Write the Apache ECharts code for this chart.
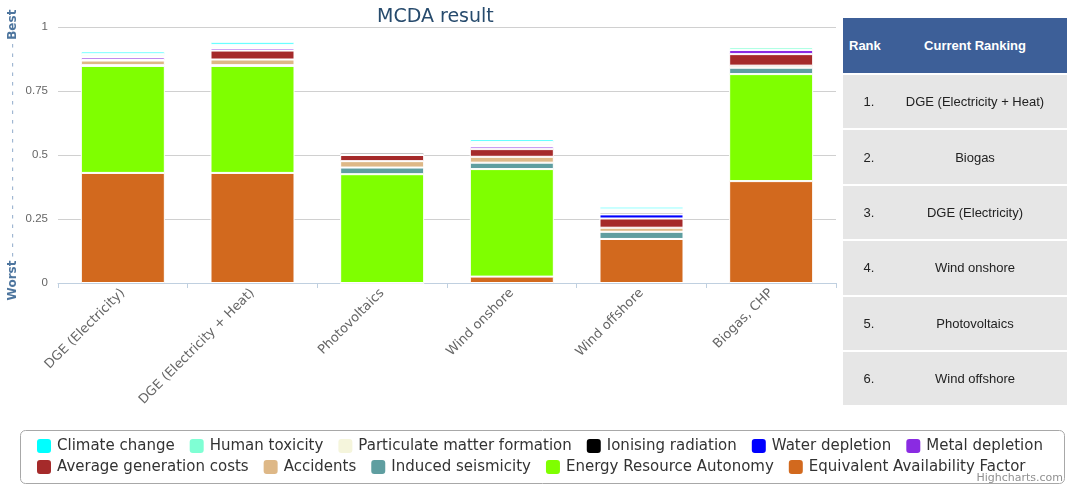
<!DOCTYPE html>
<html>
<head>
<meta charset="utf-8">
<script src="https://cdn.jsdelivr.net/npm/echarts@6/dist/echarts.min.js"></script>
<style>
  body { margin: 0; background: #fff; }
  #chart { position: absolute; left: 0; top: 0; width: 1067px; height: 484px; }
  #rank { position: absolute; left: 843px; top: 18px; width: 224px; font-family: 'Liberation Sans', Arial, sans-serif; font-size: 13px; }
  .hdr { height: 55px; background: #3d5f98; color: #fff; font-weight: bold; position: relative; }
  .row { height: 53.4px; margin-top: 2px; background: #e6e6e6; color: #222; position: relative; }
  .c1, .c2 { position: absolute; top: 0; height: 100%; display: flex; align-items: center; justify-content: center; }
  .c1 { left: 0; width: 52px; }
  .c2 { left: 40px; width: 184px; }
  .hdr .c1 { justify-content: flex-start; padding-left: 6px; }
</style>
</head>
<body>
<div id="chart"></div>
<div id="rank"></div>
<script>
// ---- data ----
const categories = ['DGE (Electricity)', 'DGE (Electricity + Heat)', 'Photovoltaics', 'Wind onshore', 'Wind offshore', 'Biogas, CHP'];
const criteria = ['Climate change', 'Human toxicity', 'Particulate matter formation', 'Ionising radiation', 'Water depletion', 'Metal depletion',
                  'Average generation costs', 'Accidents', 'Induced seismicity', 'Energy Resource Autonomy', 'Equivalent Availability Factor'];
const climateChange        = [0.010, 0.010, 0.000, 0.010, 0.010, 0.000];
const humanToxicity        = [0.006, 0.006, 0.000, 0.006, 0.006, 0.010];
const particulateMatter    = [0.007, 0.007, 0.004, 0.008, 0.007, 0.000];
const ionisingRadiation    = [0.000, 0.000, 0.009, 0.000, 0.007, 0.000];
const waterDepletion       = [0.000, 0.000, 0.000, 0.004, 0.016, 0.000];
const metalDepletion       = [0.010, 0.009, 0.000, 0.010, 0.000, 0.017];
const avgGenerationCosts   = [0.002, 0.035, 0.024, 0.030, 0.036, 0.045];
const accidents            = [0.018, 0.022, 0.025, 0.023, 0.016, 0.008];
const inducedSeismicity    = [0.003, 0.003, 0.026, 0.025, 0.028, 0.025];
const energyAutonomy       = [0.418, 0.418, 0.425, 0.420, 0.000, 0.418];
const availabilityFactor   = [0.430, 0.430, 0.000, 0.025, 0.172, 0.398];
const yTicks = [0, 0.25, 0.5, 0.75, 1];
const rankHeader = ['Rank', 'Current Ranking'];
const ranking = ['DGE (Electricity + Heat)', 'Biogas', 'DGE (Electricity)', 'Wind onshore', 'Photovoltaics', 'Wind offshore'];

const seriesValues = [climateChange, humanToxicity, particulateMatter, ionisingRadiation, waterDepletion, metalDepletion,
                      avgGenerationCosts, accidents, inducedSeismicity, energyAutonomy, availabilityFactor];

// ---- styles ----
const colors = ['#00FFFF', '#7FFFD4', '#F5F5DC', '#000000', '#0000FF', '#8A2BE2',
                '#A52A2A', '#DEB887', '#5F9EA0', '#7FFF00', '#D2691E'];
const FONT = 'DejaVu Sans, Verdana, sans-serif';

// ranking table
const rk = document.getElementById('rank');
let html = '<div class="hdr"><div class="c1">' + rankHeader[0] + '</div><div class="c2">' + rankHeader[1] + '</div></div>';
ranking.forEach((r, i) => {
  html += '<div class="row"><div class="c1">' + (i + 1) + '.</div><div class="c2">' + r + '</div></div>';
});
rk.innerHTML = html;

// series: ECharts stacks first series at bottom, Highcharts-style order puts first criterion on top
const series = [];
for (let i = criteria.length - 1; i >= 0; i--) {
  series.push({
    type: 'bar', name: criteria[i], stack: 'total', barWidth: 84,
    data: seriesValues[i],
    itemStyle: { color: colors[i], borderColor: '#ffffff', borderWidth: 1 },
    emphasis: { disabled: true }
  });
}

const legendCommon = {
  orient: 'horizontal', left: 30, itemWidth: 16, itemHeight: 16, itemGap: 13, icon: 'roundRect',
  textStyle: { fontSize: 15, color: '#333', fontFamily: FONT }, selectedMode: false
};

const dashes = Array(23).fill('-').join(' ');

const chart = echarts.init(document.getElementById('chart'), null, { renderer: 'canvas' });
chart.setOption({
  animation: false,
  color: colors,
  title: {
    text: 'MCDA result', left: 372, top: 3,
    textStyle: { fontSize: 19, fontWeight: 'normal', color: '#274b6d', fontFamily: FONT }
  },
  grid: { left: 58, right: 231, top: 27, bottom: 201, containLabel: false, outerBoundsMode: 'none' },
  legend: [
    Object.assign({}, legendCommon, { top: 432, data: criteria.slice(0, 6) }),
    Object.assign({}, legendCommon, { top: 453, data: criteria.slice(6) })
  ],
  xAxis: {
    type: 'category', data: categories,
    axisLine: { lineStyle: { color: '#C0D0E0' } },
    axisTick: { show: true, length: 5, lineStyle: { color: '#C0D0E0' } },
    axisLabel: { rotate: 45, interval: 0, fontSize: 13, color: '#666', fontFamily: FONT, margin: 8 }
  },
  yAxis: {
    type: 'value', min: yTicks[0], max: yTicks[yTicks.length - 1], interval: yTicks[1] - yTicks[0],
    axisLine: { show: false }, axisTick: { show: false },
    axisLabel: { fontSize: 11.5, color: '#666', fontFamily: 'Liberation Sans, Arial, sans-serif', margin: 10 },
    splitLine: { lineStyle: { color: '#d0d0d0' } },
    name: '{w|Worst} {d|' + dashes + '} {b|Best}',
    nameLocation: 'middle', nameGap: 38, nameRotate: 90, nameMoveOverlap: false,
    nameTextStyle: {
      rich: {
        w: { fontSize: 12, fontWeight: 'bold', color: '#4d759e', fontFamily: FONT },
        b: { fontSize: 12, fontWeight: 'bold', color: '#4d759e', fontFamily: FONT },
        d: { fontSize: 14, color: '#9fb6d2', fontFamily: FONT }
      }
    }
  },
  graphic: [
    { type: 'rect', left: 18, top: 428, shape: { width: 1044, height: 53, r: 5 },
      style: { fill: 'none', stroke: '#a8a8a8', lineWidth: 1 }, silent: true },
    { type: 'text', right: 4, bottom: 0, style: { text: 'Highcharts.com', fill: '#909090', fontSize: 11, fontFamily: FONT }, silent: true }
  ],
  series: series
});
</script>
</body>
</html>
